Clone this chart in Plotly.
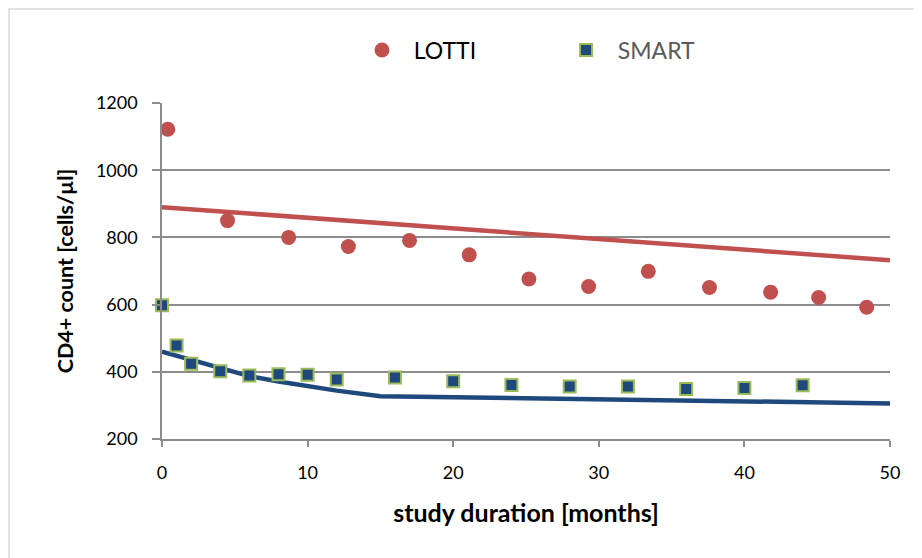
import plotly.graph_objects as go

# ---- data ----
lotti_months = [0.4, 4.5, 8.7, 12.8, 17.0, 21.1, 25.2, 29.3, 33.4, 37.6, 41.8, 45.1, 48.4]
lotti_cd4 = [1122, 850, 800, 773, 791, 748, 676, 654, 699, 651, 637, 621, 592]

smart_months = [0, 1, 2, 4, 6, 8, 10, 12, 16, 20, 24, 28, 32, 36, 40, 44]
smart_cd4 = [598, 478, 424, 402, 389, 393, 391, 377, 383, 372, 361, 356, 356, 349, 352, 360]

lotti_fit_months = [0, 50]
lotti_fit_cd4 = [890, 732]

smart_fit_months = [0, 2, 4, 6, 8, 10, 12, 15, 20, 30, 40, 50]
smart_fit_cd4 = [460, 435, 410, 387, 371, 357, 344, 327, 324, 318, 312, 306]

x_ticks = [0, 10, 20, 30, 40, 50]
y_ticks = [200, 400, 600, 800, 1000, 1200]

RED = "#C0504D"
BLUE = "#1F497D"
GREEN = "#9BBB59"
GRID = "#8C8C8C"
FONT = "Lato"

# page has an 8px body margin, so the figure is 8px smaller and offset
W, H = 914, 550
L, R, T, B = 154, 32, 95, 119

fig = go.Figure()
fig.add_trace(go.Scatter(x=lotti_fit_months, y=lotti_fit_cd4, mode="lines",
                         line=dict(color=RED, width=4.5), showlegend=False, hoverinfo="skip"))
fig.add_trace(go.Scatter(x=smart_fit_months, y=smart_fit_cd4, mode="lines",
                         line=dict(color=BLUE, width=4.5), showlegend=False, hoverinfo="skip"))
fig.add_trace(go.Scatter(x=lotti_months, y=lotti_cd4, mode="markers",
                         name="&nbsp;&nbsp;LOTTI", cliponaxis=False,
                         marker=dict(symbol="circle", size=15, color=RED)))
fig.add_trace(go.Scatter(x=smart_months, y=smart_cd4, mode="markers",
                         name="<span style='color:#595959'>&nbsp;&nbsp;SMART</span>",
                         cliponaxis=False,
                         marker=dict(symbol="square", size=12, color=BLUE,
                                     line=dict(color=GREEN, width=2))))

pw = W - L - R
ph = H - T - B


def px(xp):
    return (xp - L) / pw


def py(yp):
    return (H - B - yp) / ph


fig.update_layout(
    width=W, height=H,
    margin=dict(l=L, r=R, t=T, b=B, pad=0),
    paper_bgcolor="white", plot_bgcolor="white",
    font=dict(family=FONT, color="#000000"),
    showlegend=True,
    legend=dict(orientation="h", x=px(354), y=py(42), xanchor="left", yanchor="middle",
                font=dict(size=23, family=FONT, color="#000000"),
                entrywidth=159, entrywidthmode="pixels",
                bgcolor="rgba(0,0,0,0)"),
    xaxis=dict(range=[0, 50], tickvals=x_ticks, ticktext=[str(v) for v in x_ticks],
               showgrid=False, zeroline=False,
               showline=True, linecolor=GRID, linewidth=1.5,
               ticks="outside", ticklen=6, tickwidth=1.5, tickcolor=GRID,
               tickfont=dict(size=18, family=FONT, color="#000000"),
               ticklabelstandoff=11,
               title=dict(text="<b>study duration [months]</b>",
                          font=dict(size=25, family=FONT, color="#000000"), standoff=22)),
    yaxis=dict(range=[200, 1200], tickvals=y_ticks, ticktext=[str(v) for v in y_ticks],
               showgrid=True, gridcolor=GRID, gridwidth=1.5, zeroline=False,
               showline=True, linecolor=GRID, linewidth=1.5,
               ticks="outside", ticklen=8, tickwidth=1.5, tickcolor=GRID,
               tickfont=dict(size=18, family=FONT, color="#000000"),
               ticklabelstandoff=11,
               title=dict(text="<b>CD4+ count [cells/µl]</b>",
                          font=dict(size=21.5, family=FONT, color="#000000"), standoff=16)),
    shapes=[dict(type="rect", xref="paper", yref="paper",
                 x0=px(1), x1=px(940), y0=py(580), y1=py(1),
                 line=dict(color="#D9D9D9", width=1.5), fillcolor="rgba(0,0,0,0)", layer="below")],
)

fig.write_html("out.html")
